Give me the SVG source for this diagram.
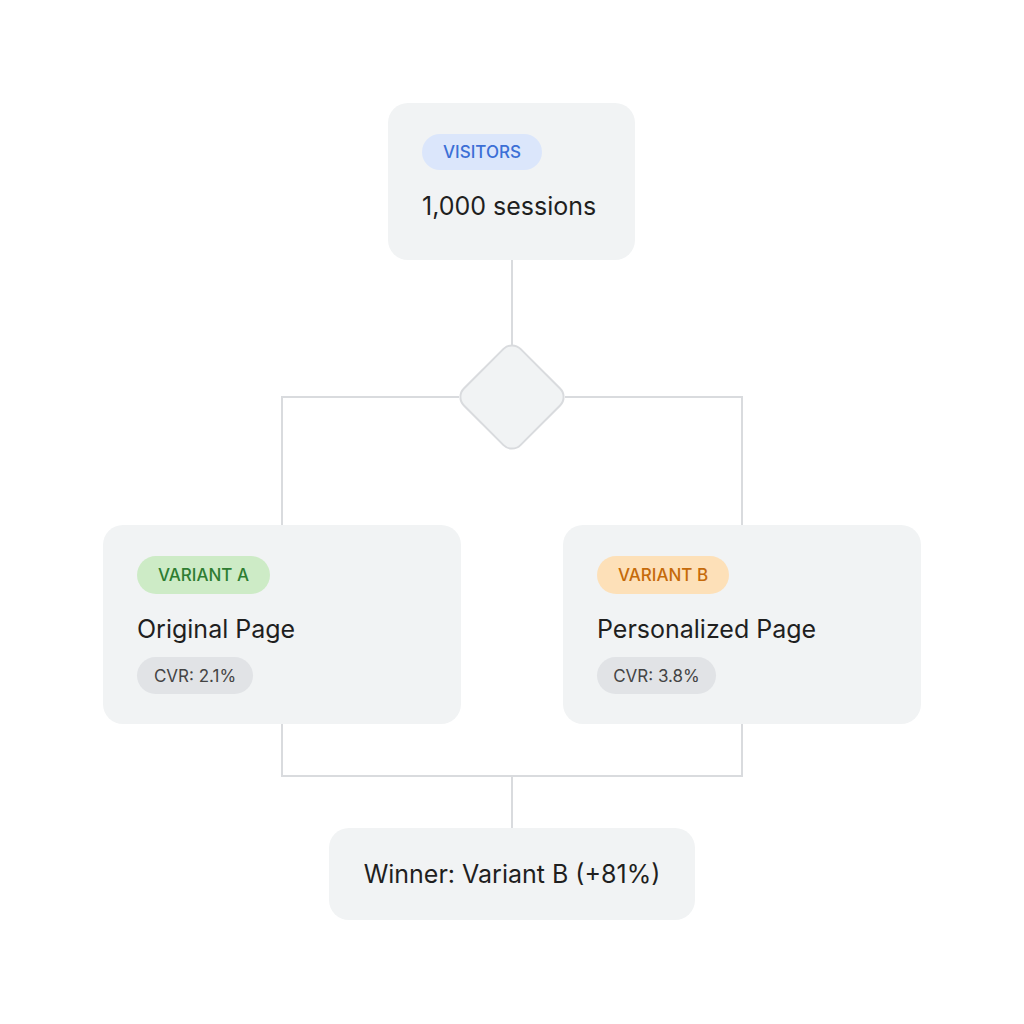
<svg xmlns="http://www.w3.org/2000/svg" width="1024" height="1024" viewBox="0 0 1024 1024">
<style>
.box{fill:#f1f3f4}
.ln{fill:none;stroke:#d9dbde;stroke-width:2}
.t{font-family:Inter,"Noto Sans",sans-serif;fill:#1f1f1f;font-size:25px}
.p{font-family:Inter,"Noto Sans",sans-serif;font-size:17px;font-weight:500}
.c{font-family:Inter,"Noto Sans",sans-serif;font-size:17px;fill:#444}
</style>
<rect width="1024" height="1024" fill="#fff"/>
<g id="connectors">
<path class="ln" d="M512 260V345M459 397H282V525M565 397H742V525M282 724V776H742V724M512 776V828"/>
</g>
<g id="visitors">
<rect class="box" x="388" y="103" width="247" height="157" rx="20"/>
<rect x="422" y="134" width="120" height="36" rx="18" fill="#dbe6fb"/>
<text class="p" x="482" y="158" text-anchor="middle" fill="#3c6fd6">VISITORS</text>
<text class="t" x="422" y="215">1,000 sessions</text>
</g>
<g id="split">
<rect x="472" y="357" width="80" height="80" rx="12" transform="rotate(45 512 397)" fill="#f1f3f4" stroke="#d9dbde" stroke-width="2"/>
</g>
<g id="variantA">
<rect class="box" x="103" y="525" width="358" height="199" rx="20"/>
<rect x="137" y="556" width="133" height="38" rx="19" fill="#cdebc6"/>
<text class="p" x="203.5" y="581" text-anchor="middle" fill="#2e7d32">VARIANT A</text>
<text class="t" x="137" y="638">Original Page</text>
<rect x="137" y="657" width="116" height="37" rx="18.5" fill="#e1e3e6"/>
<text class="c" x="195" y="682" text-anchor="middle">CVR: 2.1%</text>
</g>
<g id="variantB">
<rect class="box" x="563" y="525" width="358" height="199" rx="20"/>
<rect x="597" y="556" width="132" height="38" rx="19" fill="#fde0b8"/>
<text class="p" x="663" y="581" text-anchor="middle" fill="#c56a0a">VARIANT B</text>
<text class="t" x="597" y="638">Personalized Page</text>
<rect x="597" y="657" width="119" height="37" rx="18.5" fill="#e1e3e6"/>
<text class="c" x="656.5" y="682" text-anchor="middle">CVR: 3.8%</text>
</g>
<g id="winner">
<rect class="box" x="329" y="828" width="366" height="92" rx="20"/>
<text class="t" x="512" y="883" text-anchor="middle">Winner: Variant B (+81%)</text>
</g>
</svg>
